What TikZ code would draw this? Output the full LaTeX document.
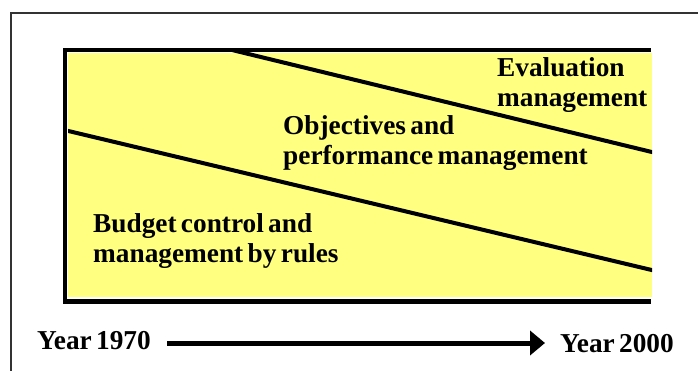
\documentclass[tikz,border=0pt]{standalone}
\usepackage{fontspec}
\setmainfont{Liberation Serif}
\usetikzlibrary{arrows.meta}
\definecolor{panelyellow}{RGB}{255,255,128}
\newcommand{\lblfont}{\fontsize{27.3}{30}\selectfont\bfseries\spaceskip=0.16em\relax}
\tikzset{
  lbl/.style={font=\lblfont, inner sep=0pt, anchor=base west, align=left, text=black},
  band/.style={line width=4pt, black},
}
\begin{document}
\begin{tikzpicture}[x=1pt,y=-1pt]
\useasboundingbox (0,0) rectangle (698,371);
% outer frame (extends beyond the page)
\begin{scope}
\clip (0,0) rectangle (698,371);
\draw[line width=2pt, black!80] (11,13) rectangle (740,420);
\end{scope}
% shadowed frame of the yellow panel
\fill[black] (63,48) rectangle (651,52);
\fill[black] (63,48) rectangle (67,304);
\fill[black] (63,299) rectangle (651,304);
\fill[white] (67,52) rectangle (652,298);
\fill[panelyellow] (68,53) rectangle (652,297);
\begin{scope}
\clip (68,52) rectangle (652,297);
\coordinate (u1) at (232,50);
\coordinate (u2) at (660,154);
\coordinate (l1) at (60,129);
\coordinate (l2) at (660,272);
\draw[band] (u1) -- (u2);
\draw[band] (l1) -- (l2);
\end{scope}
% labels (base anchor = baseline of the last line)
\node[lbl] (eval) at (497,107) {Evaluation\\management};
\node[lbl] (obj) at (283,165) {Objectives and\\performance management};
\node[lbl] (bud) at (93,262) {Budget control and\\management by rules};
\node[lbl] (y1) at (37,349) {Year 1970};
\node[lbl] (y2) at (560,352) {Year 2000};
\coordinate (a1) at (167,343);
\coordinate (a2) at (545,343);
\draw[line width=5pt, -{Triangle[length=15pt,width=24pt]}] (a1) -- (a2);
\end{tikzpicture}
\end{document}
